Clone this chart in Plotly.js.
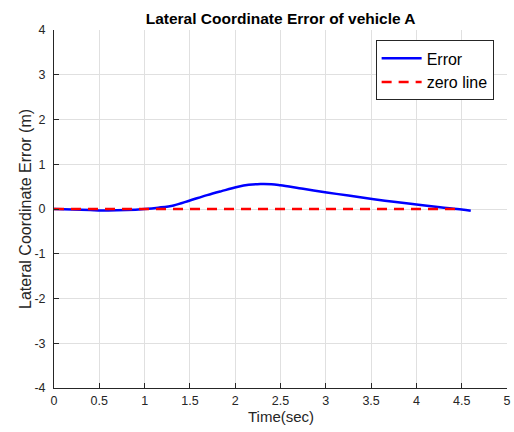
<!DOCTYPE html>
<html><head><meta charset="utf-8">
<script src="https://cdn.plot.ly/plotly-3.0.1.min.js"></script>
<style>html,body{margin:0;padding:0;background:#fff}#chart{width:514px;height:432px}</style>
</head><body><div id="chart"></div>
<script>
const timeErr = [0, 0.2, 0.4, 0.6, 0.8, 1.0, 1.15, 1.32, 1.5, 1.69, 1.85, 2.02, 2.15, 2.28, 2.4, 2.5, 2.75, 3.01, 3.25, 3.53, 3.75, 4.0, 4.26, 4.5, 4.6];
const errorVals = [0, -0.01, -0.025, -0.035, -0.025, 0, 0.03, 0.08, 0.19, 0.31, 0.40, 0.49, 0.54, 0.56, 0.555, 0.53, 0.45, 0.37, 0.30, 0.22, 0.16, 0.10, 0.04, -0.01, -0.04];
const timeZero = [0, 4.5];
const zeroVals = [0, 0];
const xTicks = [0, 0.5, 1, 1.5, 2, 2.5, 3, 3.5, 4, 4.5, 5];
const yTicks = [-4, -3, -2, -1, 0, 1, 2, 3, 4];
const xTitle = 'Time(sec)';
const yTitle = 'Lateral Coordinate Error (m)';

const font = 'Liberation Sans, Arial, sans-serif';
const traces = [
  {x: timeErr, y: errorVals, name: 'Error', mode: 'lines', line: {color: '#0000ff', width: 2.5, shape: 'spline'}},
  {x: timeZero, y: zeroVals, name: 'zero line', mode: 'lines', line: {color: '#ff0000', width: 2.5, dash: '10px,7px'}}
];
const axisCommon = {
  showline: true, linecolor: '#262626', linewidth: 1, mirror: false,
  ticks: 'inside', ticklen: 5, tickcolor: '#262626', tickwidth: 1,
  showgrid: true, gridcolor: '#e0e0e0', gridwidth: 1, zeroline: false,
  tickfont: {family: font, size: 12.5, color: '#262626'}
};
const layout = {
  width: 514, height: 432,
  margin: {l: 54, r: 7, t: 30, b: 44},
  paper_bgcolor: '#ffffff', plot_bgcolor: '#ffffff',
  title: {text: '<b>Lateral Coordinate Error of vehicle A</b>', font: {family: font, size: 15.5, color: '#000'}, x: 0.546, xanchor: 'center', y: 0.958, yanchor: 'middle'},
  xaxis: Object.assign({}, axisCommon, {range: [0, 5], tickvals: xTicks, ticktext: xTicks.map(String), ticklabelstandoff: 1}),
  yaxis: Object.assign({}, axisCommon, {range: [-4, 4], tickvals: yTicks, ticktext: yTicks.map(String), ticklabelstandoff: 5}),
  annotations: [
    {text: xTitle, xref: 'paper', yref: 'paper', x: 0.5, y: 0, xanchor: 'center', yanchor: 'middle', yshift: -28, showarrow: false,
     font: {family: font, size: 15, color: '#262626'}},
    {text: yTitle, xref: 'paper', yref: 'paper', x: 0, y: 0.5, xanchor: 'center', yanchor: 'middle', xshift: -29, textangle: -90, showarrow: false,
     font: {family: font, size: 16, color: '#262626'}}
  ],
  showlegend: true,
  legend: {x: 0.71, y: 0.971, xanchor: 'left', yanchor: 'top', bgcolor: '#ffffff', bordercolor: '#262626', borderwidth: 1,
    font: {family: font, size: 16, color: '#000'}, tracegroupgap: 0, itemwidth: 40}
};
Plotly.newPlot('chart', traces, layout, {displayModeBar: false, staticPlot: true});
</script></body></html>
